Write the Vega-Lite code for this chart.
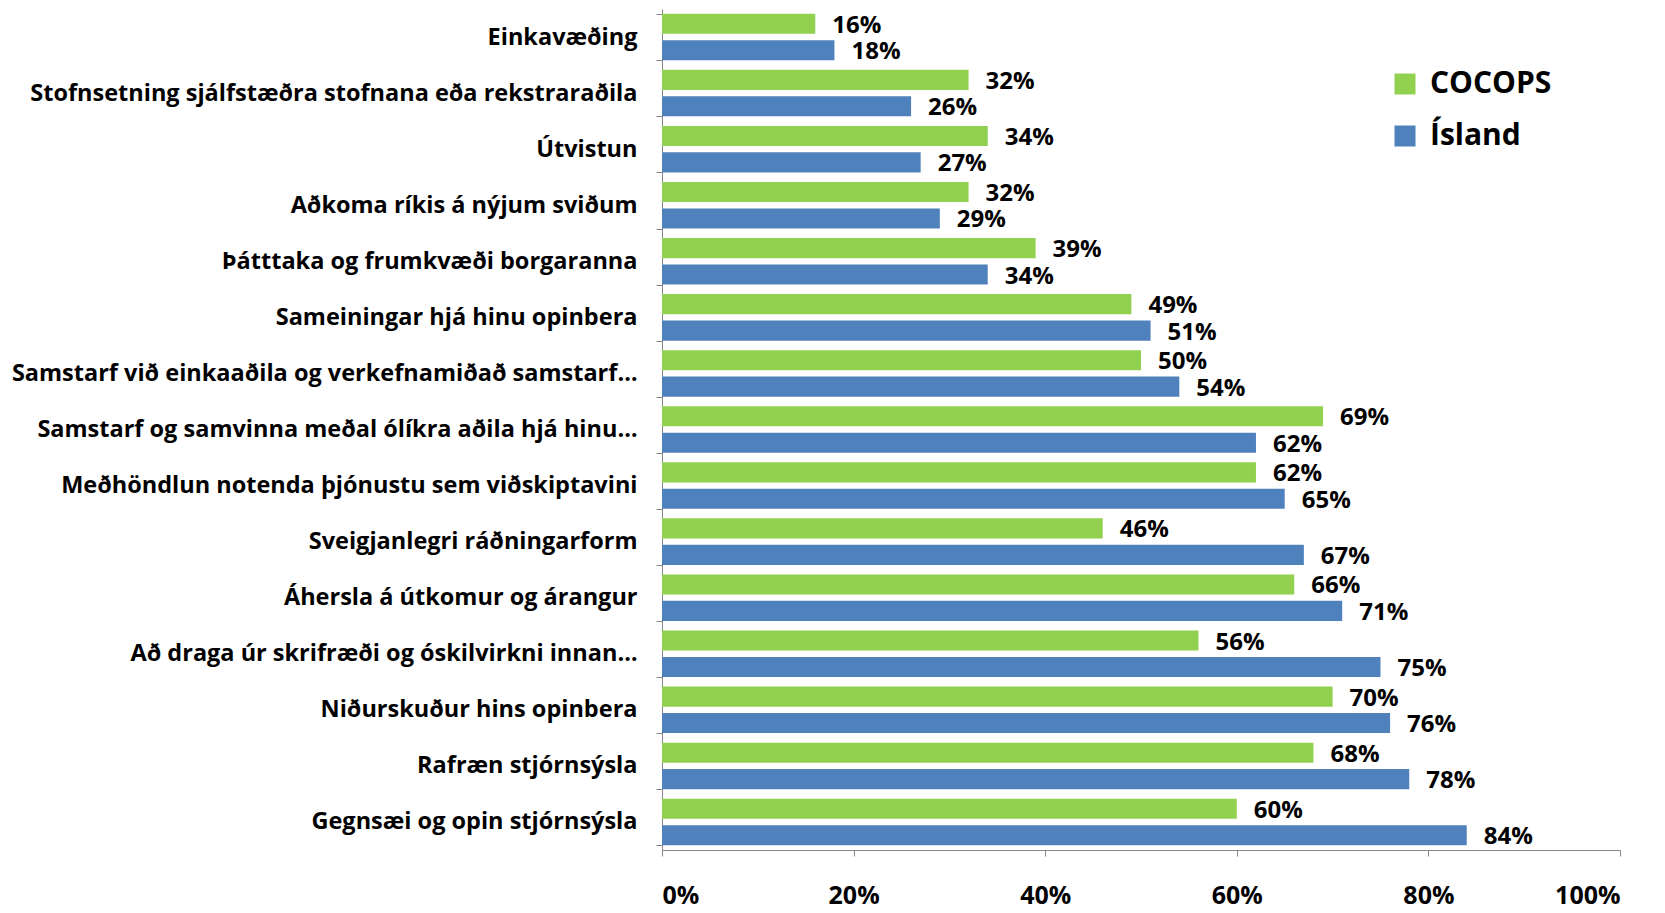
{
  "$schema": "https://vega.github.io/schema/vega-lite/v6.json",
  "autosize": "none",
  "width": 958,
  "height": 841,
  "padding": {"left": 662, "top": 9, "right": 45, "bottom": 63},
  "background": "white",
  "config": {
    "view": {"stroke": null},
    "font": "Open Sans"
  },
  "data": {
    "values": [
      {"category": "Einkavæðing", "series": "COCOPS", "value": 0.16},
      {"category": "Einkavæðing", "series": "Ísland", "value": 0.18},
      {"category": "Stofnsetning sjálfstæðra stofnana eða rekstraraðila", "series": "COCOPS", "value": 0.32},
      {"category": "Stofnsetning sjálfstæðra stofnana eða rekstraraðila", "series": "Ísland", "value": 0.26},
      {"category": "Útvistun", "series": "COCOPS", "value": 0.34},
      {"category": "Útvistun", "series": "Ísland", "value": 0.27},
      {"category": "Aðkoma ríkis á nýjum sviðum", "series": "COCOPS", "value": 0.32},
      {"category": "Aðkoma ríkis á nýjum sviðum", "series": "Ísland", "value": 0.29},
      {"category": "Þátttaka og frumkvæði borgaranna", "series": "COCOPS", "value": 0.39},
      {"category": "Þátttaka og frumkvæði borgaranna", "series": "Ísland", "value": 0.34},
      {"category": "Sameiningar hjá hinu opinbera", "series": "COCOPS", "value": 0.49},
      {"category": "Sameiningar hjá hinu opinbera", "series": "Ísland", "value": 0.51},
      {"category": "Samstarf við einkaaðila og verkefnamiðað samstarf…", "series": "COCOPS", "value": 0.50},
      {"category": "Samstarf við einkaaðila og verkefnamiðað samstarf…", "series": "Ísland", "value": 0.54},
      {"category": "Samstarf og samvinna meðal ólíkra aðila hjá hinu…", "series": "COCOPS", "value": 0.69},
      {"category": "Samstarf og samvinna meðal ólíkra aðila hjá hinu…", "series": "Ísland", "value": 0.62},
      {"category": "Meðhöndlun notenda þjónustu sem viðskiptavini", "series": "COCOPS", "value": 0.62},
      {"category": "Meðhöndlun notenda þjónustu sem viðskiptavini", "series": "Ísland", "value": 0.65},
      {"category": "Sveigjanlegri ráðningarform", "series": "COCOPS", "value": 0.46},
      {"category": "Sveigjanlegri ráðningarform", "series": "Ísland", "value": 0.67},
      {"category": "Áhersla á útkomur og árangur", "series": "COCOPS", "value": 0.66},
      {"category": "Áhersla á útkomur og árangur", "series": "Ísland", "value": 0.71},
      {"category": "Að draga úr skrifræði og óskilvirkni innan…", "series": "COCOPS", "value": 0.56},
      {"category": "Að draga úr skrifræði og óskilvirkni innan…", "series": "Ísland", "value": 0.75},
      {"category": "Niðurskuður hins opinbera", "series": "COCOPS", "value": 0.70},
      {"category": "Niðurskuður hins opinbera", "series": "Ísland", "value": 0.76},
      {"category": "Rafræn stjórnsýsla", "series": "COCOPS", "value": 0.68},
      {"category": "Rafræn stjórnsýsla", "series": "Ísland", "value": 0.78},
      {"category": "Gegnsæi og opin stjórnsýsla", "series": "COCOPS", "value": 0.60},
      {"category": "Gegnsæi og opin stjórnsýsla", "series": "Ísland", "value": 0.84}
    ]
  },
  "encoding": {
    "y": {
      "field": "category",
      "type": "nominal",
      "sort": null,
      "scale": {"paddingInner": 0.17, "paddingOuter": 0.085},
      "axis": {
        "title": null,
        "tickBand": "extent",
        "domainColor": "#868686",
        "tickColor": "#868686",
        "tickSize": 6,
        "labelFontSize": 23.5,
        "labelFontWeight": "bold",
        "labelColor": "black",
        "labelPadding": 19,
        "labelLimit": 700
      }
    },
    "yOffset": {
      "field": "series",
      "type": "nominal",
      "sort": ["COCOPS", "Ísland"],
      "scale": {"paddingInner": 0.24}
    },
    "x": {
      "field": "value",
      "type": "quantitative",
      "scale": {"domain": [0, 1], "nice": false},
      "axis": {
        "title": null,
        "format": "%",
        "values": [0, 0.2, 0.4, 0.6, 0.8, 1],
        "grid": false,
        "domainColor": "#868686",
        "tickColor": "#868686",
        "tickSize": 6,
        "labelFontSize": 25,
        "labelFontWeight": "bold",
        "labelColor": "black",
        "labelPadding": 27
      }
    }
  },
  "layer": [
    {
      "mark": {"type": "bar"},
      "encoding": {
        "color": {
          "field": "series",
          "type": "nominal",
          "scale": {"domain": ["COCOPS", "Ísland"], "range": ["#92D050", "#4F81BD"]},
          "legend": {
            "title": null,
            "orient": "none",
            "legendX": 728,
            "legendY": 60,
            "symbolType": "square",
            "symbolSize": 441,
            "symbolStrokeWidth": 0,
            "symbolOpacity": 1,
            "labelFontSize": 30,
            "labelFontWeight": "bold",
            "labelColor": "black",
            "labelOffset": 10,
            "rowPadding": 22
          }
        }
      }
    },
    {
      "mark": {"type": "text", "align": "left", "baseline": "middle", "dx": 17, "dy": 2, "fontSize": 24, "fontWeight": "bold", "color": "black"},
      "encoding": {
        "text": {"field": "value", "type": "quantitative", "format": ".0%"}
      }
    }
  ]
}
